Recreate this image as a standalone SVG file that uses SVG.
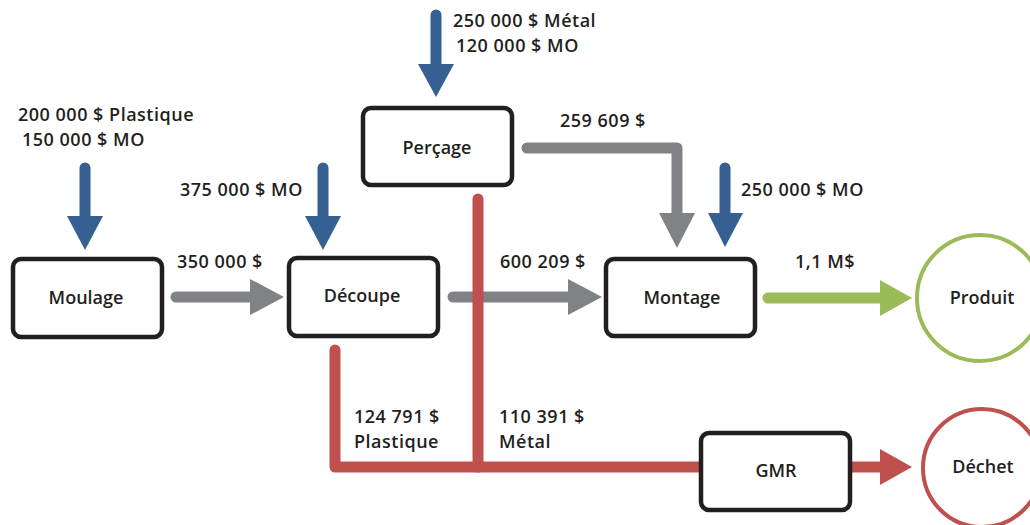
<svg xmlns="http://www.w3.org/2000/svg" width="1030" height="525" viewBox="0 0 1030 525">
<style>
.box{fill:#fff;stroke:#231f20;stroke-width:4.5}
.lbl{font-family:"Open Sans","Liberation Sans",sans-serif;font-weight:600;font-size:18px;letter-spacing:0.5px;fill:#231f20}
.nl{font-family:"Open Sans","Liberation Sans",sans-serif;font-weight:600;font-size:18px;fill:#231f20;text-anchor:middle}
.sb{stroke:#376092;stroke-width:11;stroke-linecap:round;fill:none}
.sg{stroke:#808285;stroke-width:11;stroke-linecap:round;stroke-linejoin:round;fill:none}
.sgr{stroke:#9bbb59;stroke-width:11;stroke-linecap:round;fill:none}
.sr{stroke:#c0504d;stroke-width:11;stroke-linecap:round;stroke-linejoin:round;fill:none}
</style>
<rect width="1030" height="525" fill="#fff"/>
<g id="connectors">
<path class="sb" d="M85,168V218"/><polygon fill="#376092" points="67,216 103,216 85,250"/>
<path class="sb" d="M323,168V218"/><polygon fill="#376092" points="305,216 341,216 323,250"/>
<path class="sb" d="M436,15V65"/><polygon fill="#376092" points="418,64 454,64 436,97"/>
<path class="sb" d="M725,168V215"/><polygon fill="#376092" points="708,213 743,213 725,247"/>
<path class="sg" d="M176,297H252"/><polygon fill="#808285" points="250,279 250,315 284,297"/>
<path class="sg" d="M453,297H570"/><polygon fill="#808285" points="568,279 568,315 602,297"/>
<path class="sg" d="M527,148H677V215"/><polygon fill="#808285" points="659,213 695,213 677,248"/>
<path class="sgr" d="M768,298H882"/><polygon fill="#9bbb59" points="880,280 880,316 912,298"/>
<path class="sr" d="M335,350V467H700"/>
<path class="sr" d="M478,199V467"/>
<path class="sr" d="M848,467H884"/><polygon fill="#c0504d" points="880,449 880,485 912,467"/>
</g>
<g id="moulage"><rect class="box" x="13" y="259" width="149" height="78" rx="8"/><text class="nl" x="86" y="304">Moulage</text></g>
<g id="decoupe"><rect class="box" x="289" y="258" width="149" height="78" rx="8"/><text class="nl" x="362" y="302">Découpe</text></g>
<g id="percage"><rect class="box" x="363" y="108" width="149" height="77" rx="8"/><text class="nl" x="437" y="154">Perçage</text></g>
<g id="montage"><rect class="box" x="606" y="259" width="149" height="77" rx="8"/><text class="nl" x="682" y="304">Montage</text></g>
<g id="gmr"><rect class="box" x="701" y="433" width="149" height="77" rx="8"/><text class="nl" x="776" y="477">GMR</text></g>
<g id="produit"><circle cx="980" cy="298" r="63" fill="#fff" stroke="#9bbb59" stroke-width="4"/><text class="nl" x="982" y="304">Produit</text></g>
<g id="dechet"><circle cx="982" cy="468" r="59" fill="#fff" stroke="#c0504d" stroke-width="4"/><text class="nl" x="983" y="473">Déchet</text></g>
<g id="labels">
<text class="lbl" x="18" y="121">200 000 $ Plastique</text>
<text class="lbl" x="22" y="146">150 000 $ MO</text>
<text class="lbl" x="180" y="196">375 000 $ MO</text>
<text class="lbl" x="177" y="268">350 000 $</text>
<text class="lbl" x="453" y="27">250 000 $ Métal</text>
<text class="lbl" x="456" y="52">120 000 $ MO</text>
<text class="lbl" x="560" y="127">259 609 $</text>
<text class="lbl" x="741" y="196">250 000 $ MO</text>
<text class="lbl" x="500" y="268">600 209 $</text>
<text class="lbl" x="795" y="268">1,1 M$</text>
<text class="lbl" x="354" y="423">124 791 $</text>
<text class="lbl" x="354" y="448">Plastique</text>
<text class="lbl" x="499" y="423">110 391 $</text>
<text class="lbl" x="499" y="448">Métal</text>
</g>
</svg>
